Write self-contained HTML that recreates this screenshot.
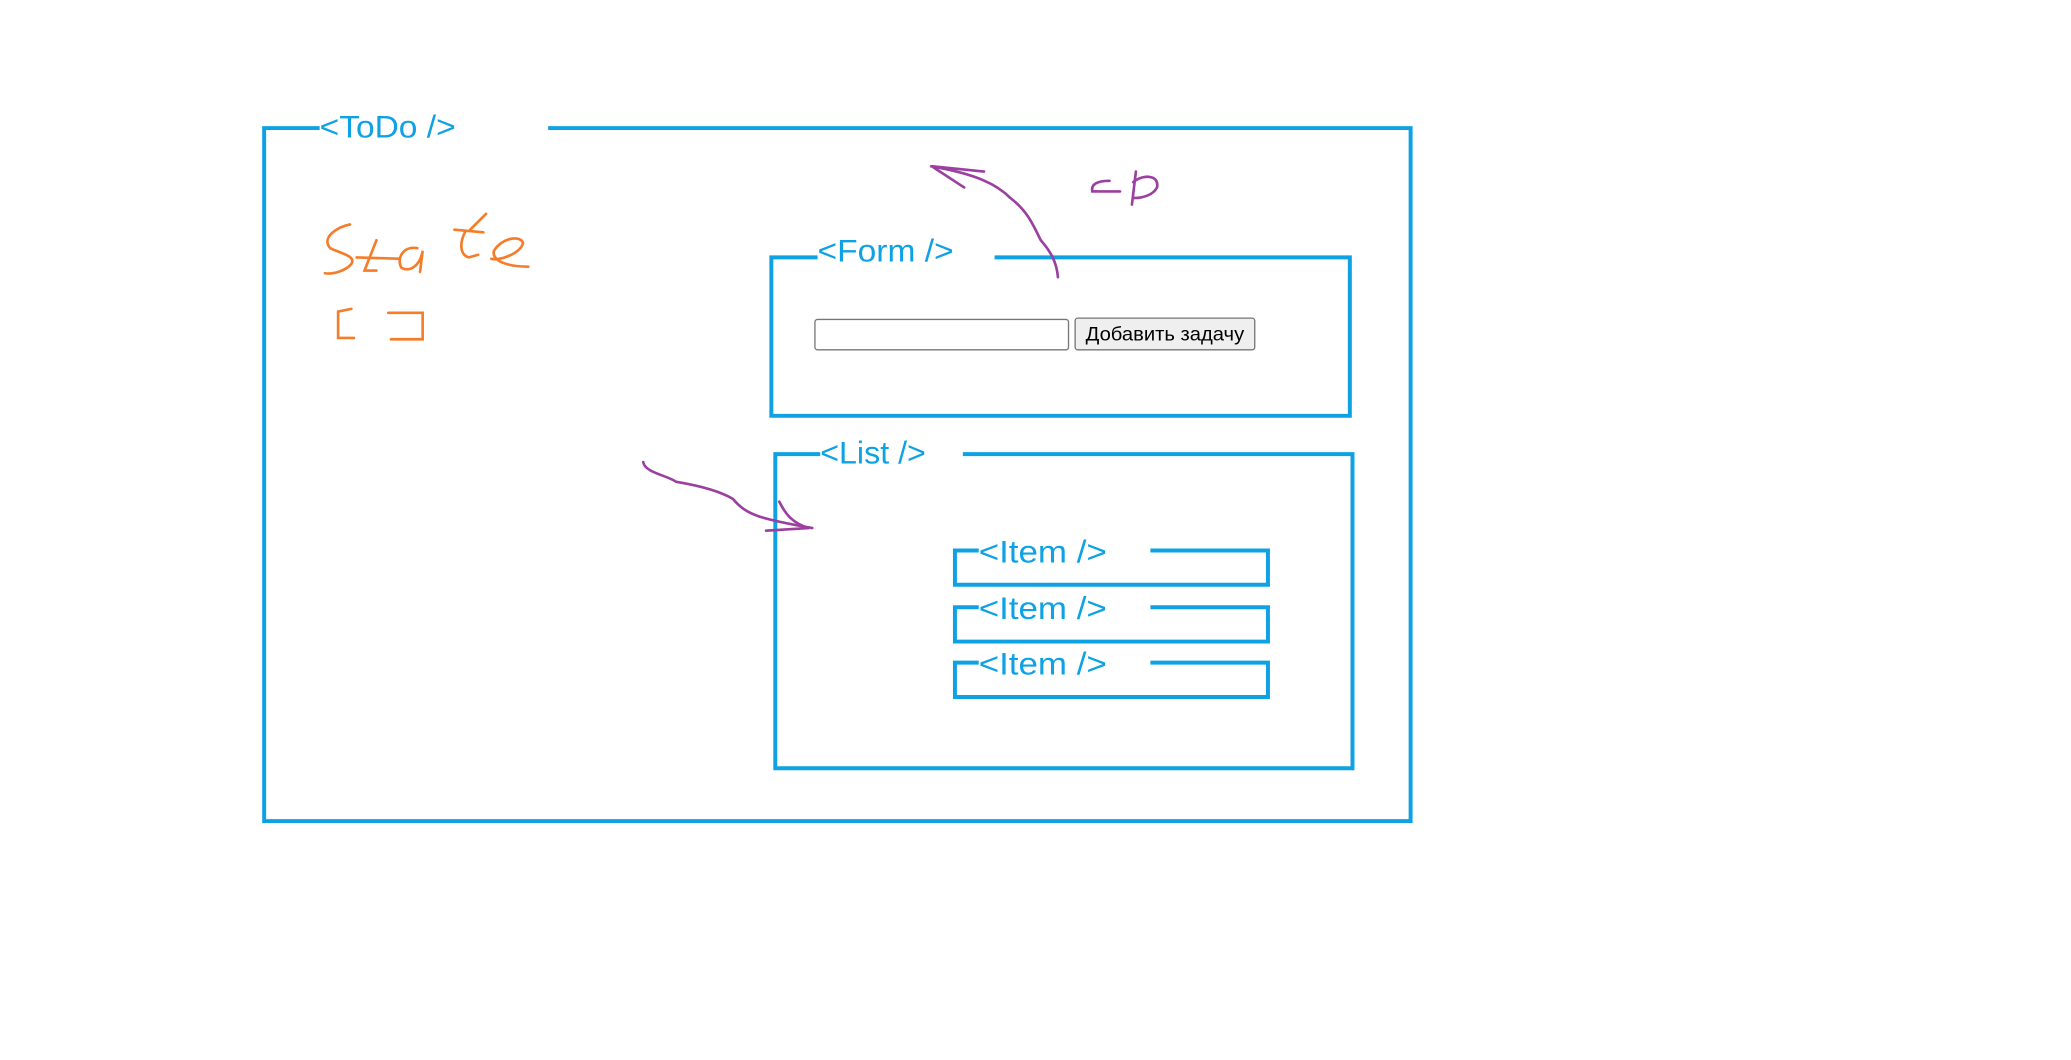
<!DOCTYPE html>
<html><head><meta charset="utf-8"><style>html,body{margin:0;padding:0;background:#fff;width:2071px;height:1060px;overflow:hidden}</style></head>
<body>
<svg width="2071" height="1060" viewBox="0 0 1568 803" preserveAspectRatio="none" xmlns="http://www.w3.org/2000/svg">
<g fill="none" stroke="#0ea2e4" stroke-width="3">
<polyline points="242,97 200,97 200,622 1068,622 1068,97 415,97"/>
<polyline points="619,195 584,195 584,315 1022,315 1022,195 753,195"/>
<polyline points="621,344 587,344 587,582 1024,582 1024,344 729,344"/>
<polyline points="741,417 723,417 723,443 960,443 960,417 871,417"/>
<polyline points="741,460 723,460 723,486 960,486 960,460 871,460"/>
<polyline points="741,502 723,502 723,528 960,528 960,502 871,502"/>
</g>
<g fill="#0ea2e4" font-family="Liberation Sans, sans-serif" font-size="24">
<text x="242" y="104" textLength="103" lengthAdjust="spacingAndGlyphs">&lt;ToDo /&gt;</text>
<text x="619" y="198" textLength="103" lengthAdjust="spacingAndGlyphs">&lt;Form /&gt;</text>
<text x="621" y="351" textLength="80" lengthAdjust="spacingAndGlyphs">&lt;List /&gt;</text>
<text x="741" y="426" textLength="97" lengthAdjust="spacingAndGlyphs">&lt;Item /&gt;</text>
<text x="741" y="469" textLength="97" lengthAdjust="spacingAndGlyphs">&lt;Item /&gt;</text>
<text x="741" y="511" textLength="97" lengthAdjust="spacingAndGlyphs">&lt;Item /&gt;</text>
</g>
<rect x="617" y="242" width="192" height="23" rx="2" fill="#fff" stroke="#767676" stroke-width="1"/>
<rect x="814" y="241" width="136" height="24" rx="2" fill="#efefef" stroke="#767676" stroke-width="1"/>
<text x="882" y="258" text-anchor="middle" font-family="Liberation Sans, sans-serif" font-size="14.5" textLength="120" lengthAdjust="spacingAndGlyphs" fill="#000">Добавить задачу</text>
<g fill="none" stroke="#9b3fa0" stroke-width="2" stroke-linecap="round">
<path d="M801,210 C800,198 795,190 788,182 C782,170 778,160 765,150 C755,140 740,132 705,126"/>
<path d="M706,126 L745,130"/><path d="M707,127 L730,142"/>
<path d="M487,350 C488,358 505,360 512,365 C530,368 545,372 555,378 C565,390 575,393 615,400"/>
<path d="M590,380 C595,390 600,396 612,400"/><path d="M580,402 L612,400"/>
<path d="M840,137 C830,137 826,140 827,145 L848,145"/>
<path d="M860,130 L857,155 M858,138 C865,132 878,132 876,142 C873,148 865,150 858,150"/>
</g>
<g fill="none" stroke="#f57d2a" stroke-width="2" stroke-linecap="round">
<path d="M265,170 C255,172 243,180 250,188 C258,192 270,194 266,200 C262,205 252,208 246,207"/>
<path d="M285,182 L276,205 L285,205 M270,195 L302,196"/>
<path d="M316,188 C305,186 300,196 304,203 C310,206 318,202 320,190 L318,206"/>
<path d="M368,162 L356,174 M344,174 L366,176 M352,176 C348,184 348,193 355,195 L362,193"/>
<path d="M372,196 C378,198 394,192 396,184 C394,178 380,180 374,190 C372,198 385,202 400,202"/>
<path d="M266,234 L256,236 L256,256 L268,256"/>
<path d="M294,237 L320,237 L320,257 L296,257"/>
</g>
</svg>
</body></html>
